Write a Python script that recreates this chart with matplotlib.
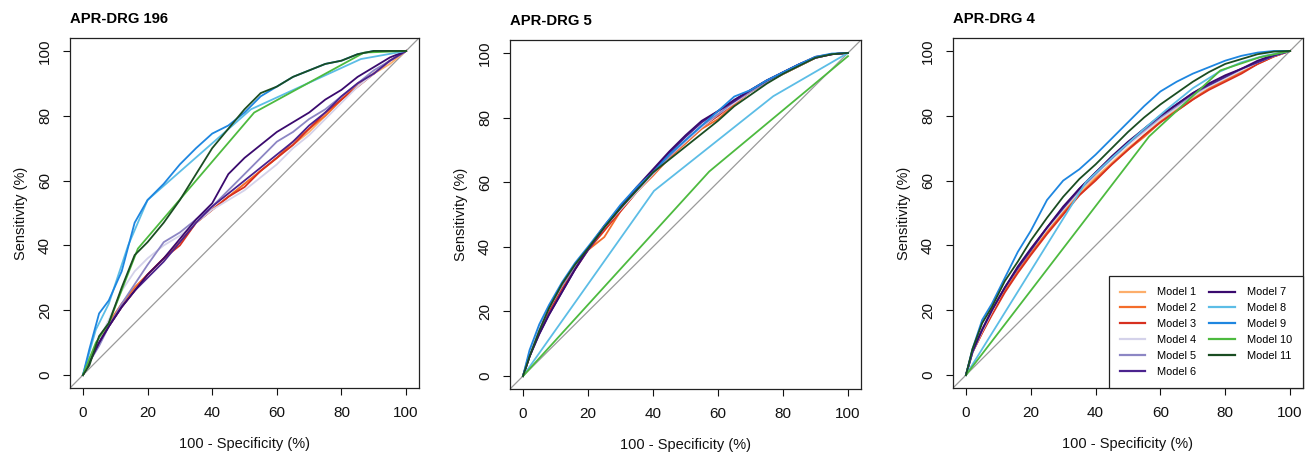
import matplotlib
matplotlib.use("Agg")
import matplotlib.pyplot as plt
from matplotlib.lines import Line2D

plt.rcParams['font.family'] = ['Liberation Sans', 'DejaVu Sans']

# ---------------- data ----------------
TITLES = ["APR-DRG 196", "APR-DRG 5", "APR-DRG 4"]
MODEL_LABELS = ["Model 1", "Model 2", "Model 3", "Model 4", "Model 5", "Model 6",
                "Model 7", "Model 8", "Model 9", "Model 10", "Model 11"]
MODEL_COLORS = ["#FDAE6B", "#F46D2B", "#D7301F", "#D4D2EA", "#8C86C4", "#4B238E",
                "#3A0A6E", "#5CBDE6", "#1E86E0", "#4DBA3F", "#1A4D22"]

# common false-positive-rate grid (100 - specificity, %)
FPR_GRID = [0, 2, 5, 8, 12, 16, 20, 25, 30, 35, 40, 45, 50, 55, 60, 65, 70, 75, 80, 85, 90, 95, 100]

# --- APR-DRG 196 (sensitivity % on FPR_GRID) ---
DRG196_M1 = [0, 5, 10, 16, 22, 27, 31, 36, 41, 47, 51, 55, 59, 63, 67, 71, 75, 80, 85, 89, 93, 96, 100]
DRG196_M2 = [0, 5, 11, 16, 22, 27, 31, 36, 41, 47, 51, 55, 59, 63, 67, 72, 76, 80, 85, 90, 93, 97, 100]
DRG196_M3 = [0, 4, 10, 15, 21, 26, 31, 36, 40, 47, 51, 55, 58, 63, 67, 71, 76, 81, 85, 89, 93, 97, 100]
DRG196_M4 = [0, 5, 11, 17, 26, 32, 36, 40, 43, 47, 51, 54, 57, 61, 65, 70, 74, 79, 84, 89, 93, 97, 100]
DRG196_M5 = [0, 4, 9, 15, 22, 28, 34, 41, 44, 48, 52, 57, 62, 67, 72, 75, 79, 82, 86, 90, 94, 97, 100]
DRG196_M6 = [0, 4, 10, 15, 21, 26, 30, 35, 41, 47, 52, 56, 60, 64, 68, 72, 77, 81, 86, 90, 93, 97, 100]
DRG196_M7 = [0, 4, 10, 15, 21, 26, 31, 36, 42, 48, 53, 62, 67, 71, 75, 78, 81, 85, 88, 92, 95, 98, 100]
DRG196_M9 = [0, 8, 19, 23, 32, 47, 54, 59, 65, 70, 74.5, 77, 81, 86, 89, 92, 94, 96, 97, 99, 100, 100, 100]
DRG196_M11 = [0, 3, 12, 16, 27, 37, 41, 47, 54, 62, 70, 76, 82, 87, 89, 92, 94, 96, 97, 99, 100, 100, 100]
DRG196_M8_X = [0, 4, 8, 14, 20, 52, 86, 100]
DRG196_M8_Y = [0, 14, 22, 40, 54, 82, 97.5, 100]
DRG196_M10_X = [0, 4, 8, 17, 53, 87, 100]
DRG196_M10_Y = [0, 10, 16, 39, 81, 99.5, 100]

# --- APR-DRG 5 ---
DRG5_M1 = [0, 7, 15, 21, 28, 34, 39, 45, 51.5, 57.5, 62.5, 67.5, 72, 77, 81, 84.5, 88, 91, 93.5, 96, 98.5, 99.6, 100]
DRG5_M2 = [0, 7, 15, 21, 28, 34, 39, 43, 51, 57, 62, 67.5, 72, 76.5, 79.5, 84, 88, 91, 93.5, 96, 98.5, 99.6, 100]
DRG5_M3 = [0, 6, 14, 20, 27, 33, 39, 45, 51, 57, 62.5, 68, 72.5, 77, 80.5, 84.5, 88, 91, 93.5, 96, 98.5, 99.6, 100]
DRG5_M4 = [0, 7, 15, 21, 28, 34.5, 39.5, 46, 51.5, 57, 62.5, 68, 72.5, 77, 81, 84.5, 88, 91, 93.5, 96, 98.5, 99.6, 100]
DRG5_M5 = [0, 6, 14, 21, 28, 34, 39.5, 46, 52, 57.5, 63, 68, 73, 77.5, 81, 85, 88, 91, 94, 96.5, 98.5, 99.6, 100]
DRG5_M6 = [0, 6, 13, 19, 26, 33, 39, 46, 52, 58, 63.5, 69, 74, 78.5, 82, 85, 88.5, 91.5, 94, 96.5, 98.5, 99.6, 100]
DRG5_M7 = [0, 6, 13, 19, 26, 33, 39.5, 46.5, 52.5, 58.5, 64, 69.5, 74.5, 79, 82, 85.5, 88.5, 91.5, 94, 96.5, 98.8, 99.6, 100]
DRG5_M9 = [0, 8, 16, 22, 29, 35, 40, 46.5, 53, 58.5, 63, 68.5, 73, 77.5, 82, 86.5, 88.5, 91.5, 94, 96.5, 98.8, 99.8, 100]
DRG5_M11 = [0, 6, 14, 21, 28.5, 34.5, 39.5, 46, 52, 57.5, 63, 67, 71, 75, 79, 83.5, 87, 90.5, 93.5, 96, 98.5, 99.6, 100]
DRG5_M8_X = [0, 40.3, 77, 100]
DRG5_M8_Y = [0, 57.3, 86.6, 100]
DRG5_M10_X = [0, 57.3, 100]
DRG5_M10_Y = [0, 63.3, 99]

# --- APR-DRG 4 ---
DRG4_M1 = [0, 7, 13.5, 19.5, 26.5, 32.5, 38, 44.5, 50.5, 56, 61, 65.5, 70, 74, 78.5, 82, 85.5, 88.5, 91, 93.5, 96, 98.3, 100]
DRG4_M2 = [0, 7, 13, 19, 26, 32, 37.5, 44, 50, 55.5, 60.5, 65, 69.5, 73.5, 78, 81.5, 85, 88.5, 91, 93.5, 96, 98.3, 100]
DRG4_M3 = [0, 7, 13, 18.5, 25.5, 31.5, 37, 43.5, 49.5, 55.5, 60, 65, 69.5, 74, 78, 81.5, 85, 88, 90.5, 93, 96, 98.3, 100]
DRG4_M4 = [0, 7, 13.5, 19.5, 27, 33, 38.5, 45, 51, 57, 62, 66.5, 71, 75, 79, 82.5, 86, 89, 91.5, 94, 96.5, 98.5, 100]
DRG4_M5 = [0, 7, 14, 20, 27, 33, 38.5, 45.5, 51.5, 57, 62, 67, 71.5, 75.5, 79.5, 83, 86.5, 89.5, 92, 94.5, 96.5, 98.5, 100]
DRG4_M6 = [0, 7, 14, 20, 27, 33, 38.5, 45.5, 51.5, 57.5, 62.5, 67, 71.5, 76, 80, 83.5, 87, 89.5, 92, 94.5, 96.5, 98.5, 100]
DRG4_M7 = [0, 7.5, 14, 20, 27, 33.5, 39, 45.5, 52, 57.5, 62.5, 67.5, 72, 76, 80, 83.5, 87, 90, 92.5, 94.5, 97, 98.8, 100]
DRG4_M9 = [0, 8, 17, 22, 30, 38, 44.5, 54, 60, 63.5, 68, 73, 78, 83, 87.5, 90.5, 93, 95, 97, 98.5, 99.5, 100, 100]
DRG4_M11 = [0, 8, 16, 21, 29, 35, 41.5, 48.5, 55, 60.5, 65, 70, 75, 79.5, 83.5, 87, 90.5, 93.5, 96, 97.5, 99, 99.8, 100]
DRG4_M8_X = [0, 37, 45, 55, 62, 70, 78, 85, 92, 100]
DRG4_M8_Y = [0, 59.5, 67, 76, 82, 88.5, 93.5, 96.5, 98.5, 100]
DRG4_M10_X = [0, 56.5, 78.5, 90.5, 100]
DRG4_M10_Y = [0, 73.6, 94, 98, 100]

TICKS = [0, 20, 40, 60, 80, 100]
XLABEL = "100 - Specificity (%)"
YLABEL = "Sensitivity (%)"

# ---------------- assemble curves ----------------
def panel_curves(m1, m2, m3, m4, m5, m6, m7, m8x, m8y, m9, m10x, m10y, m11):
    return [(FPR_GRID, m1), (FPR_GRID, m2), (FPR_GRID, m3), (FPR_GRID, m4),
            (FPR_GRID, m5), (FPR_GRID, m6), (FPR_GRID, m7), (m8x, m8y),
            (FPR_GRID, m9), (m10x, m10y), (FPR_GRID, m11)]

PANELS = [
    panel_curves(DRG196_M1, DRG196_M2, DRG196_M3, DRG196_M4, DRG196_M5, DRG196_M6,
                 DRG196_M7, DRG196_M8_X, DRG196_M8_Y, DRG196_M9, DRG196_M10_X,
                 DRG196_M10_Y, DRG196_M11),
    panel_curves(DRG5_M1, DRG5_M2, DRG5_M3, DRG5_M4, DRG5_M5, DRG5_M6,
                 DRG5_M7, DRG5_M8_X, DRG5_M8_Y, DRG5_M9, DRG5_M10_X,
                 DRG5_M10_Y, DRG5_M11),
    panel_curves(DRG4_M1, DRG4_M2, DRG4_M3, DRG4_M4, DRG4_M5, DRG4_M6,
                 DRG4_M7, DRG4_M8_X, DRG4_M8_Y, DRG4_M9, DRG4_M10_X,
                 DRG4_M10_Y, DRG4_M11),
]

# ---------------- figure ----------------
W, H = 1311, 454
fig = plt.figure(figsize=(W / 100, H / 100), dpi=100)
boxes = [(70, 38, 349, 350), (510, 40, 351, 349), (953, 38, 350, 350)]

for i, (title, curves) in enumerate(zip(TITLES, PANELS)):
    x0, y0, w, h = boxes[i]
    ax = fig.add_axes([x0 / W, 1 - (y0 + h) / H, w / W, h / H])
    ax.plot([-10, 110], [-10, 110], color="#9a9a9a", lw=0.9, zorder=1)
    for (xs, ys), col in zip(curves, MODEL_COLORS):
        ax.plot(xs, ys, color=col, lw=1.3, zorder=2)
    ax.set_xlim(-4, 104)
    ax.set_ylim(-4, 104)
    ax.set_xticks(TICKS)
    ax.set_yticks(TICKS)
    ax.tick_params(axis="both", length=5, width=0.8, labelsize=11, pad=8,
                   colors="#111111")
    ax.tick_params(axis="y", labelrotation=90)
    for lab in ax.get_yticklabels():
        lab.set_va("center")
    for s in ax.spines.values():
        s.set_linewidth(0.9)
        s.set_color("#222222")
    ax.set_xlabel(XLABEL, fontsize=10.5, labelpad=12, color="#111111")
    ax.set_ylabel(YLABEL, fontsize=10.5, labelpad=7, color="#111111")
    ax.set_title(title, loc="left", fontsize=10.7, fontweight="bold", pad=11)

    if i == 2:
        handles = [Line2D([0], [0], color=c, lw=1.6) for c in MODEL_COLORS]
        leg = ax.legend(handles, MODEL_LABELS, ncol=2, loc="lower right",
                        bbox_to_anchor=(1, 0), borderaxespad=0, fancybox=False,
                        framealpha=1, edgecolor="#222222", fontsize=7.9,
                        handlelength=2.3, handletextpad=1.1, columnspacing=1.2,
                        labelspacing=0.54, borderpad=1.0)
        leg.get_frame().set_linewidth(0.9)

fig.savefig("out.png", dpi=100)
